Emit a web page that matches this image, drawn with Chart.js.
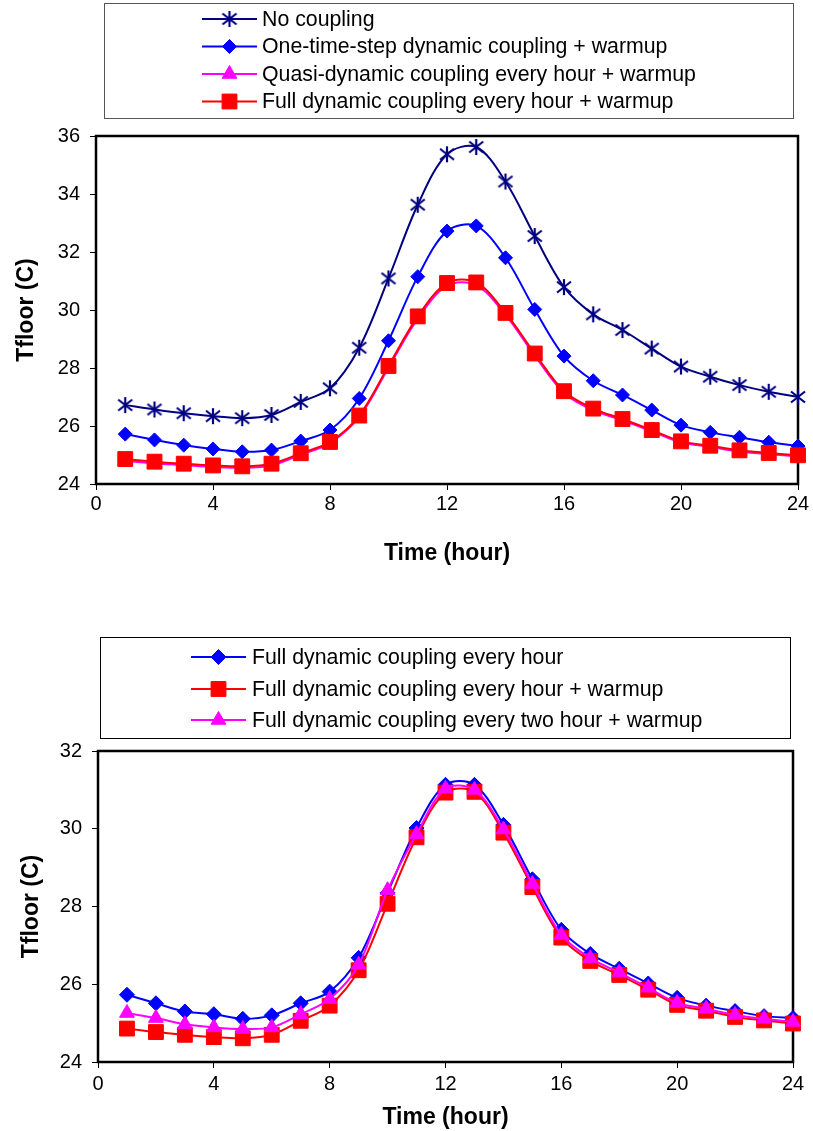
<!DOCTYPE html>
<html>
<head>
<meta charset="utf-8">
<script src="https://cdn.jsdelivr.net/npm/chart.js@4.4.1/dist/chart.umd.min.js"></script>
<style>
  html, body { margin: 0; padding: 0; background: #ffffff; }
  #wrap { position: relative; width: 813px; height: 1131px; overflow: hidden; }
  canvas { position: absolute; left: 0; }
</style>
</head>
<body>
<div id="wrap">
  <canvas id="chartTop" width="813" height="570" style="top:0px"></canvas>
  <canvas id="chartBottom" width="813" height="561" style="top:570px"></canvas>
</div>
<script>
// Hour of day (x values shared by every series)
const hours = [1, 2, 3, 4, 5, 6, 7, 8, 9, 10, 11, 12, 13, 14, 15, 16, 17, 18, 19, 20, 21, 22, 23, 24];

// Tick labels
const xTickValues = [0, 4, 8, 12, 16, 20, 24];
const yTickValuesTop = [24, 26, 28, 30, 32, 34, 36];
const yTickValuesBottom = [24, 26, 28, 30, 32];

// Floor temperature (C), upper chart
const noCoupling = [26.72, 26.57, 26.44, 26.34, 26.27, 26.38, 26.83, 27.30, 28.70, 31.09, 33.63, 35.37,
                    35.62, 34.43, 32.55, 30.79, 29.85, 29.31, 28.67, 28.05, 27.70, 27.41, 27.18, 27.00];
const oneStepWarmup = [25.72, 25.52, 25.34, 25.21, 25.11, 25.17, 25.48, 25.86, 26.95, 28.94, 31.15, 32.72,
                       32.90, 31.80, 30.02, 28.41, 27.56, 27.07, 26.55, 26.03, 25.78, 25.61, 25.44, 25.31];
const quasiHourWarmup = [24.80, 24.71, 24.65, 24.59, 24.56, 24.64, 25.01, 25.41, 26.31, 28.01, 29.70, 30.84,
                         30.86, 29.83, 28.43, 27.14, 26.54, 26.20, 25.82, 25.43, 25.28, 25.12, 25.03, 24.95];
// Shared by both charts
const fullHourWarmup = [24.86, 24.77, 24.70, 24.64, 24.61, 24.70, 25.06, 25.45, 26.36, 28.07, 29.78, 30.93,
                        30.95, 29.90, 28.50, 27.20, 26.60, 26.24, 25.86, 25.47, 25.32, 25.16, 25.07, 24.99];

// Floor temperature (C), lower chart
const fullHour = [25.73, 25.51, 25.30, 25.23, 25.11, 25.20, 25.51, 25.81, 26.68, 28.35, 30.02, 31.13,
                  31.13, 30.10, 28.70, 27.40, 26.78, 26.40, 26.02, 25.65, 25.45, 25.31, 25.18, 25.13];
const fullTwoHourWarmup = [25.26, 25.13, 24.97, 24.89, 24.85, 24.89, 25.23, 25.62, 26.50, 28.42, 29.86, 31.03,
                           31.00, 29.98, 28.58, 27.27, 26.67, 26.30, 25.91, 25.52, 25.37, 25.21, 25.11, 25.03];

const FONT = '"Liberation Sans", Arial, sans-serif';

// Asterisk marker: vertical bar plus two diagonals
function makeAsterisk(color) {
  const c = document.createElement('canvas');
  c.width = 18; c.height = 18;
  const g = c.getContext('2d');
  g.strokeStyle = color;
  g.lineWidth = 2.2;
  g.lineCap = 'butt';
  g.beginPath();
  g.moveTo(9, 1); g.lineTo(9, 17);
  g.moveTo(2, 3.5); g.lineTo(16, 14.5);
  g.moveTo(16, 3.5); g.lineTo(2, 14.5);
  g.stroke();
  return c;
}
const asterisk = makeAsterisk('#000080');

function pts(values) {
  return values.map((v, i) => ({ x: hours[i], y: v }));
}

function series(label, values, color, style, radius, order) {
  return {
    label: label,
    data: pts(values),
    borderColor: color,
    backgroundColor: color,
    borderWidth: 2,
    pointStyle: style,
    pointRadius: radius,
    pointBackgroundColor: color,
    pointBorderColor: color,
    pointBorderWidth: 1,
    tension: 0.33,
    clip: false,
    order: order
  };
}

// Frame around the plot area
const framePlugin = {
  id: 'plotFrame',
  beforeDatasetsDraw(chart) {
    const a = chart.chartArea, ctx = chart.ctx;
    ctx.save();
    ctx.strokeStyle = '#000000';
    ctx.lineWidth = 2.5;
    ctx.strokeRect(a.left, a.top, a.right - a.left, a.bottom - a.top);
    ctx.restore();
  }
};

// Boxed legend: one row per series, line with marker and label
const boxLegendPlugin = {
  id: 'boxLegend',
  afterDraw(chart, args, opts) {
    const ctx = chart.ctx;
    ctx.save();
    ctx.strokeStyle = opts.borderColor;
    ctx.lineWidth = 1;
    ctx.strokeRect(opts.box[0] + 0.5, opts.box[1] + 0.5, opts.box[2], opts.box[3]);
    ctx.font = opts.fontSize + 'px ' + FONT;
    ctx.textBaseline = 'middle';
    ctx.textAlign = 'left';
    chart.data.datasets.forEach((ds, i) => {
      const y = opts.rows[i];
      ctx.strokeStyle = ds.borderColor;
      ctx.lineWidth = ds.borderWidth;
      ctx.beginPath();
      ctx.moveTo(opts.lineX[0], y);
      ctx.lineTo(opts.lineX[1], y);
      ctx.stroke();
      ctx.fillStyle = ds.pointBackgroundColor;
      ctx.strokeStyle = ds.pointBorderColor;
      ctx.lineWidth = 1;
      Chart.helpers.drawPoint(ctx, {
        pointStyle: ds.pointStyle, radius: ds.pointRadius, rotation: 0, borderWidth: 1
      }, (opts.lineX[0] + opts.lineX[1]) / 2, y);
      ctx.fillStyle = '#000000';
      ctx.fillText(ds.label, opts.textX, y + 1);
    });
    ctx.restore();
  }
};

function makeOptions(cfg) {
  return {
    responsive: false,
    animation: false,
    events: [],
    layout: { padding: { top: cfg.padTop, right: cfg.padRight, left: 0, bottom: 0 } },
    plugins: {
      legend: { display: false },
      tooltip: { enabled: false },
      boxLegend: cfg.legend
    },
    scales: {
      x: {
        type: 'linear',
        min: 0, max: 24,
        afterBuildTicks: s => { s.ticks = xTickValues.map(v => ({ value: v })); },
        afterFit: s => { s.height = cfg.xHeight; },
        border: { display: false },
        grid: { drawOnChartArea: false, drawTicks: true, tickLength: 6, color: '#000000', lineWidth: 1 },
        ticks: { color: '#000000', font: { family: FONT, size: 20 }, padding: cfg.xTickPad, maxRotation: 0 },
        title: {
          display: true, text: 'Time (hour)', color: '#000000',
          font: { family: FONT, size: 23, weight: 'bold' },
          padding: { top: 0, bottom: cfg.xTitlePad }
        }
      },
      y: {
        type: 'linear',
        min: cfg.yMin, max: cfg.yMax,
        afterBuildTicks: s => { s.ticks = cfg.yTicks.map(v => ({ value: v })); },
        afterFit: s => { s.width = cfg.yWidth; },
        border: { display: false },
        grid: { drawOnChartArea: false, drawTicks: true, tickLength: 6, color: '#000000', lineWidth: 1 },
        ticks: { color: '#000000', font: { family: FONT, size: 20 }, padding: 10 },
        title: {
          display: true, text: 'Tfloor (C)', color: '#000000',
          font: { family: FONT, size: 23, weight: 'bold' },
          padding: { top: cfg.yTitlePad, bottom: 0 }
        }
      }
    }
  };
}

new Chart(document.getElementById('chartTop'), {
  type: 'line',
  data: {
    datasets: [
      series('No coupling', noCoupling, '#000080', asterisk, 8, 3),
      series('One-time-step dynamic coupling + warmup', oneStepWarmup, '#0000FF', 'rectRot', 7, 2),
      series('Quasi-dynamic coupling every hour + warmup', quasiHourWarmup, '#FF00FF', 'triangle', 8.5, 1),
      series('Full dynamic coupling every hour + warmup', fullHourWarmup, '#FF0000', 'rect', 10.5, 0)
    ]
  },
  options: makeOptions({
    padTop: 136, padRight: 15, xHeight: 86, yWidth: 96,
    yMin: 24, yMax: 36, yTicks: yTickValuesTop,
    xTickPad: 2, xTitlePad: 3, yTitlePad: 13,
    legend: {
      box: [104, 3, 689, 115], rows: [19, 46.5, 74, 101.5],
      lineX: [202, 257], textX: 262, fontSize: 21.3, borderColor: '#555555'
    }
  }),
  plugins: [framePlugin, boxLegendPlugin]
});

new Chart(document.getElementById('chartBottom'), {
  type: 'line',
  data: {
    datasets: [
      series('Full dynamic coupling every hour', fullHour, '#0000FF', 'rectRot', 7.5, 2),
      series('Full dynamic coupling every hour + warmup', fullHourWarmup, '#FF0000', 'rect', 10.5, 1),
      series('Full dynamic coupling every two hour + warmup', fullTwoHourWarmup, '#FF00FF', 'triangle', 8.5, 0)
    ]
  },
  options: makeOptions({
    padTop: 181, padRight: 20, xHeight: 69, yWidth: 98,
    yMin: 24, yMax: 32, yTicks: yTickValuesBottom,
    xTickPad: 4, xTitlePad: 0, yTitlePad: 18,
    legend: {
      box: [100, 67, 690, 101], rows: [87, 119, 150],
      lineX: [191, 246], textX: 252, fontSize: 21.3, borderColor: '#000000'
    }
  }),
  plugins: [framePlugin, boxLegendPlugin]
});
</script>
</body>
</html>
